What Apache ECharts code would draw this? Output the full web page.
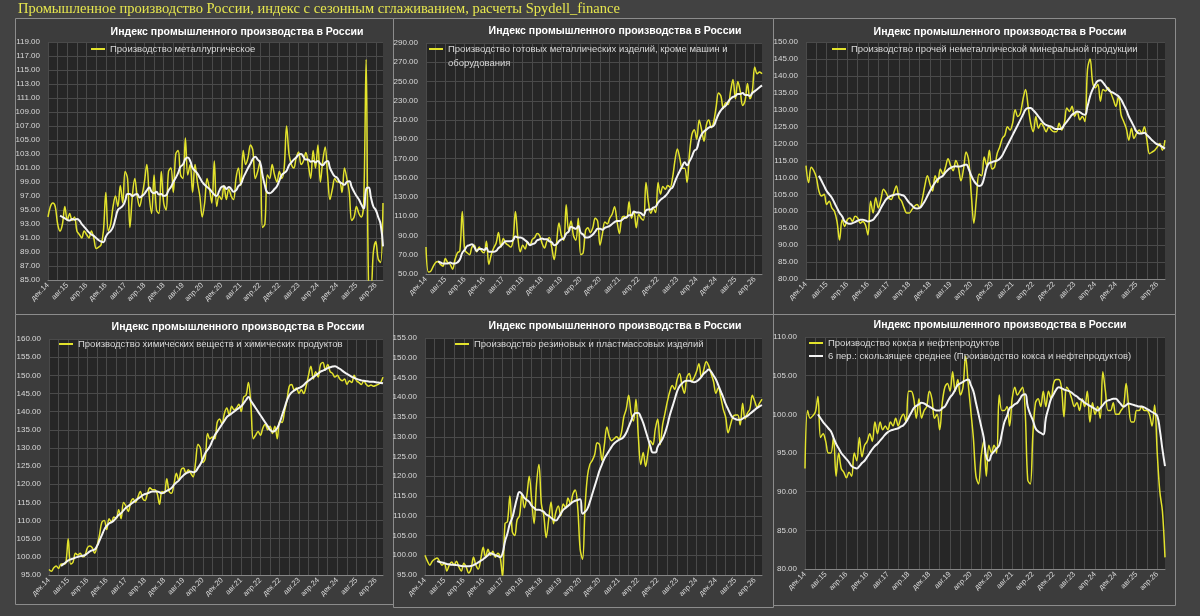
<!DOCTYPE html>
<html>
<head>
<meta charset="utf-8">
<script src="https://cdn.jsdelivr.net/npm/echarts@6/dist/echarts.min.js"></script>
<style>
  html, body { margin: 0; padding: 0; background: #424242; }
  #chart { width: 1200px; height: 616px; }
</style>
</head>
<body>
<div id="chart"></div>
<script>
// month labels: дек.14 … июл.26
const monthNames = ['янв', 'фев', 'мар', 'апр', 'май', 'июн', 'июл', 'авг', 'сен', 'окт', 'ноя', 'дек'];
const months = [];
for (let k = 0; k < 140; k++) {
  const m = (11 + k) % 12;
  const y = 14 + Math.floor((11 + k) / 12);
  months.push(monthNames[m] + '.' + y);
}

// ── Производство металлургическое ──
const metallurgy = [
  94, 95.5, 96, 95.5, 93, 92, 93, 95.5, 93.5, 94.5,
  93.5, 94, 92, 91.5, 91, 92, 91.5, 91, 92, 91,
  89.5, 89.7, 90, 92, 97.5, 92, 93, 95.5, 97, 95.5,
  98.5, 96, 100.5, 99.5, 92.5, 97, 99.5, 97, 95.5, 97,
  99, 101.5, 97, 94.5, 100, 95, 94.5, 100.5, 96, 95,
  100.5, 101, 97.5, 103, 103.5, 100, 99.5, 105.3, 100, 101.5,
  97.5, 101.5, 99, 97, 94, 96, 99.5, 98, 96, 102,
  95.5, 97, 96.5, 98.5, 96.5, 98, 97, 96.5, 99.5, 101,
  98.5, 103.5, 101.5, 102.5, 104.3, 103.5, 99.5, 100.5, 102, 92.5,
  93, 100, 99.5, 101.5, 100, 99, 100.5, 99.5, 101, 107,
  103, 101.5, 101, 102.5, 103.3, 101.5, 102, 103.2, 101.5, 99.5,
  103.5, 101, 104.3, 99, 102, 104, 100, 96.5, 98, 99.5,
  99, 99, 97.5, 101, 99.5, 97.5, 93.5, 94, 95.5, 94.5,
  94, 96, 116.5, 84.5, 84, 89, 90.5, 88, 87.5, 96
];
const metallurgyMA = [
  null, null, null, null, null, 94.2, 94.0, 93.8, 93.6, 93.5,
  93.7, 93.6, 93.7, 93.5, 93.0, 92.6, 92.2, 91.8, 91.5, 91.3,
  91.0, 90.7, 90.5, 90.4, 91.2, 91.7, 92.0, 92.6, 93.8, 95.0,
  95.3, 95.6, 96.3, 97.3, 97.3, 97.0, 97.2, 97.3, 96.8, 97.0,
  97.3, 97.8, 98.2, 97.6, 97.4, 97.6, 97.2, 97.3, 97.0, 97.1,
  97.8, 98.3, 99.0, 99.6, 100.3, 101.2, 101.5, 102.3, 102.5, 102.0,
  101.0, 100.6, 100.2, 99.6, 99.0, 98.6, 98.3, 98.0, 97.6, 97.2,
  97.0, 97.7, 98.3, 98.4, 98.0, 98.3, 98.0, 97.6, 97.8, 98.4,
  98.7, 99.6, 100.3, 101.0, 101.6, 102.3, 102.6, 102.2, 101.8, 100.0,
  98.5, 97.5, 97.4, 97.6, 98.0, 98.4, 99.2, 100.0, 100.3, 100.6,
  101.4, 101.8, 102.2, 102.5, 102.9, 103.0, 102.6, 102.2, 102.2, 101.9,
  102.0, 101.8, 102.0, 101.6, 101.4, 101.8, 102.0, 101.0, 100.3, 99.8,
  99.6, 99.0, 98.8, 98.6, 99.0, 99.1, 98.3, 97.6, 97.0, 96.5,
  95.8, 95.2, 98.0, 98.2, 96.8, 95.5, 95.0, 94.0, 93.0, 89.8
];

// ── Производство готовых металлических изделий ──
const fabricatedMetal = [
  78, 52, 53, 58, 62, 63, 60, 58, 66, 62,
  60, 55, 65, 72, 74, 115, 75, 72, 70, 78,
  80, 73, 78, 74, 72, 84, 60, 70, 77, 82,
  93, 78, 87, 82, 80, 78, 85, 115, 88, 73,
  80, 76, 83, 80, 86, 88, 92, 90, 82, 77,
  84, 88, 78, 65, 82, 103, 90, 85, 122, 95,
  105, 90, 85, 108, 70, 72, 95, 98, 93, 98,
  108, 105, 80, 92, 104, 102, 108, 112, 120, 105,
  92, 108, 110, 108, 125, 108, 115, 98, 112, 108,
  106, 145, 125, 113, 118, 114, 145, 133, 141, 138,
  142, 140, 150, 168, 180, 170, 160, 160, 145, 175,
  195, 200, 190, 210, 200, 188, 205, 210, 202, 208,
  223, 238, 235, 222, 228, 226, 240, 252, 232, 250,
  240, 225, 230, 248, 232, 240, 265, 258, 260, 258
];
const fabricatedMetalMA = [
  null, null, null, null, null, 63, 62, 61, 61, 61,
  62, 61, 61, 62, 65, 72, 75, 79, 80, 81,
  78, 74, 76, 76, 75, 77, 73, 73, 73, 74,
  77, 79, 82, 84, 84, 84, 85, 89, 88, 88,
  87, 85, 83, 80, 81, 82, 85, 86, 87, 86,
  86, 84, 83, 80, 81, 84, 86, 87, 92, 94,
  99, 98, 97, 100, 93, 91, 88, 88, 89, 91,
  94, 97, 97, 96, 98, 99, 100, 102, 104, 105,
  105, 106, 108, 109, 111, 111, 115, 114, 114, 113,
  111, 116, 117, 117, 119, 120, 124, 127, 129, 131,
  134, 138, 140, 146, 152, 157, 162, 166, 163, 167,
  172, 178, 180, 189, 195, 198, 200, 202, 203, 204,
  210, 216, 220, 223, 225, 229, 232, 234, 235, 237,
  237, 238, 236, 236, 235, 238, 240, 242, 244, 246
];

// ── Производство прочей неметаллической минеральной продукции ──
const nonMetallic = [
  113.5, 108.5, 113, 112, 110, 106, 104.5, 105, 102, 103,
  101, 100, 97, 91.5, 97.5, 95.5, 97.5, 98, 97, 98.5,
  98, 96.5, 97, 96, 93, 103, 99.5, 104, 101, 103.5,
  106.5, 105.5, 104, 103.5, 105.5, 107.5, 104, 103, 101, 99.5,
  99.5, 100.5, 101.5, 102, 101, 103.5, 107.5, 110.5, 108, 106,
  110.5, 108.5, 112.5, 111, 113, 115.5, 113.5, 112, 115, 113,
  109, 112.5, 117.5, 115, 105, 96.5, 104, 111, 110.5, 116,
  113.5, 118, 112.5, 113, 117, 119, 121.5, 122.5, 125, 124,
  126, 130, 128, 129, 133, 136, 131, 126, 123.5, 128,
  124.5, 126, 125, 123.5, 125, 124, 123.5, 123.5, 126, 124,
  126, 130.5, 129.5, 131, 128, 129.5, 127, 128, 126.5, 142,
  145, 138, 136.5, 137.5, 132.5, 136, 135.5, 136.5, 135, 133,
  131, 134, 128.5, 126.5, 124.5, 121, 124.5, 121.5, 123, 124,
  123, 125, 121, 117, 117.5, 118, 119, 120, 118, 121
];
const nonMetallicMA = [
  null, null, null, null, null, 110.5, 109, 107.5, 106, 105,
  104, 102.5, 101, 99.5, 98.5, 97, 96.5, 96.3, 96.5, 96.8,
  97.2, 97.5, 97.5, 97.3, 97, 97.2, 97.5, 98.5, 99.5, 101,
  102.3, 103.5, 104.2, 104.6, 104.8, 105, 105, 104.8, 104.5, 103.5,
  102.5, 101.8, 101, 100.8, 101, 101.8, 103, 104.5, 106, 107.3,
  108.5, 109.5, 110, 110.5, 111.5, 112.3, 112.8, 113.2, 113.3, 113.2,
  113.3, 113.6, 113.8, 112.5, 110.5, 109, 108, 107.5, 107.8, 110,
  113, 114.3, 114.5, 114.8, 115, 115.5, 116.5, 118, 119.5, 121,
  122.5, 124, 125.5, 127, 128.5, 130, 130.5, 130.5, 129.8, 129,
  128, 127, 126, 125.5, 125.2, 125, 124.5, 124.3, 124.3, 124.5,
  125.5, 126.5, 127.5, 128.5, 129, 129.5, 129.3, 128.8, 128.5, 131,
  134, 136, 137.5, 138.5, 138.7, 138, 137, 136, 135.3, 135,
  134.5, 134, 133, 131.5, 130, 128, 126.5, 125, 123.5, 123,
  123, 123.2, 122.5, 121.8, 121, 120.3, 119.8, 119.5, 119, 118.5
];

// ── Производство химических веществ и химических продуктов ──
const chemicals = [
  96.5, 96, 97, 97.5, 96.8, 98, 98, 98.3, 105, 98,
  98.5, 101, 100.5, 101, 100, 100.5, 102.5, 103, 102.5, 101,
  103, 106, 109.5, 110, 107.5, 110.5, 109.5, 111, 110.5, 113,
  110.5, 115, 114, 112.5, 115, 116, 115, 116.5, 118, 116,
  115.5, 117.5, 119, 118.5, 118.5, 117.5, 114.5, 118, 117.5, 121.5,
  118, 117.5, 120, 123, 121, 124, 124.5, 123, 124, 123,
  122, 126, 131, 130, 126, 127, 134, 132.5, 133, 132.5,
  137, 138, 136.5, 139.5, 141, 139, 141.5, 140.5, 141, 142,
  140, 144, 144.5, 148, 142, 132.5, 133.5, 134.5, 133.5, 135.5,
  136.5, 135, 136, 134, 136, 132.5, 137.5, 137, 140, 143,
  147, 147.5, 146, 146.5, 145, 146, 145, 147, 150, 152.5,
  149, 151, 149.5, 153, 153.5, 151.5, 153, 151, 150.5, 149.5,
  150, 149, 148.5, 149, 147.5, 148.5, 148, 150, 148.5, 148,
  147.5, 148.5, 147.5, 147, 147.3, 147, 147.2, 147.5, 148, 149.5
];
const chemicalsMA = [
  null, null, null, null, null, 97.5, 98, 98.5, 99, 99.3,
  99.5, 99.8, 100, 100.2, 100.3, 100.5, 101, 101.5, 101.8, 102,
  103, 104.5, 106, 107.5, 108.5, 109.2, 109.5, 110, 110.8, 111.5,
  112, 112.8, 113.5, 114, 114.5, 115, 115.5, 116, 116.5, 117,
  117.3, 117.5, 117.8, 118, 118, 118, 117.8, 117.5, 117.8, 118.2,
  118.5, 119, 119.8, 120.5, 121, 121.8, 122.5, 123, 123.3, 123.5,
  123.3, 123.5, 124.5, 125.5, 127, 128.5, 129.5, 130.5, 132, 133.5,
  134.5, 135.5, 136.5, 137.5, 138.5, 139, 139.5, 140, 140.5, 141,
  141.5, 142.3, 143.2, 144, 143, 142, 141, 140, 139, 138,
  137, 136, 135, 134.5, 134.7, 135.5, 137, 139, 141, 143,
  144.5, 145.3, 145.8, 146.2, 146.5, 146.8, 147.3, 148, 148.5, 149,
  149.5, 150, 150.5, 151, 151.3, 151.6, 152, 152.2, 152.4, 152.5,
  152.2, 151.8, 151.3, 150.8, 150.4, 150, 149.6, 149.3, 149, 148.8,
  148.6, 148.5, 148.4, 148.3, 148.2, 148.2, 148.1, 148, 147.9, 147.8
];

// ── Производство резиновых и пластмассовых изделий ──
const rubberPlastics = [
  100, 98.5, 97.5, 98.5, 99, 99.3, 98.5, 97.5, 98, 96,
  97.5, 98.3, 97.5, 98.5, 97, 96, 98, 97, 95.5, 96.5,
  99.5, 97.5, 96.5, 99, 102, 99.5, 101.5, 100, 101, 99.5,
  100.5, 99.5, 94.5, 108, 108.5, 115, 106, 105, 109, 110,
  115.5, 112, 115, 120, 114, 108, 118, 123, 113, 110,
  104.5, 109, 113.5, 108, 111, 112.5, 110, 113, 112, 114.5,
  113, 115.5, 116.5, 112, 101.5, 99, 112, 120, 123, 124,
  125.5, 128.5, 128, 124, 128, 132.5, 130, 129, 129.5, 130,
  129.5, 131, 135, 137, 140.5, 136, 134, 139.5, 130, 123,
  126, 122.5, 126, 129, 128, 132, 134.5, 128, 133, 136,
  139, 141.5, 143, 142, 144.5, 146, 143, 141, 145, 146,
  144, 145, 146.5, 148.5, 145, 147, 149, 148, 146, 144,
  141, 142.5, 140, 137, 135, 131, 133, 135, 135.5, 135.5,
  133, 138.5, 134.5, 136, 137, 140.5, 139, 137.5, 138.5, 139.5
];
const rubberPlasticsMA = [
  null, null, null, null, null, 98.5, 98.3, 98.2, 98, 97.8,
  97.7, 97.6, 97.6, 97.5, 97.4, 97.3, 97.2, 97.2, 97.2, 97.3,
  97.5, 97.8, 98.2, 98.6, 99, 99.5, 100, 100.5, 100.3, 100,
  99.8, 99.5, 100.5, 103.5, 105.5, 108, 109.5, 112, 114.5, 116,
  115.5, 114.5, 114, 113.5, 112.5, 112, 111.5, 111.5, 111.3, 111,
  110.3, 110, 109.5, 109, 108.8, 109.5, 110.5, 111.5, 112, 112.5,
  113, 113.5, 113.8, 114, 114.2, 110.5, 111, 111.8, 113.5, 115.5,
  117.5, 119.5, 121.5, 123, 124.5, 125.5, 126.5, 127.5, 128.3, 128.8,
  129.2, 129.5, 130, 131, 132.5, 134, 135.5, 136, 136, 135,
  133.5, 131.5, 129.5, 127.5, 126, 126, 127.5, 128.5, 129.5, 131,
  133, 135.5, 137.5, 139.5, 141.5, 142.8, 143.5, 144, 144.2, 144.2,
  144, 143.8, 144, 144.5, 145.2, 146, 146.5, 147, 146.5, 145.5,
  144.5, 143, 141.5, 140, 138.3, 137, 135.7, 134.8, 134.5, 134.3,
  134.3, 134.6, 135, 135.3, 135.8, 136.3, 136.8, 137.3, 137.7, 138
];

// ── Производство кокса и нефтепродуктов ──
const cokeRefined = [
  93, 100.5, 99.5, 99.8, 100.3, 102.3, 97, 97.5, 96.5, 95,
  95, 97, 92, 95, 93, 92.5, 91.8, 92.5, 92, 95,
  94, 97, 94.5, 96, 96.5, 97.5, 96.5, 99, 97.5, 99,
  98, 98.5, 98, 99, 98.5, 99.5, 98.5, 99.5, 100, 99,
  103, 103, 102, 99.5, 102, 99.5, 100.5, 101, 103, 102,
  99.5, 100, 98, 101.5, 103.5, 104, 103, 105.5, 103, 104.5,
  102.5, 103.5, 107.5, 104, 100.5, 97, 92, 91, 94.5, 96.5,
  92, 96, 95, 96, 95, 102.5, 100.5, 100.5, 101, 98.5,
  102, 103.5, 102.5, 103, 103.5, 100.5, 91.5, 91, 97.5, 101.5,
  102, 101, 103, 101, 103, 102, 104, 104.5, 104.5, 103.5,
  99.7, 103.5, 103, 102, 101, 101.5, 100.5, 102, 101, 103,
  99, 101.5, 100, 101, 99.5, 105.5, 103, 100.5, 100.5, 101.5,
  100, 100, 100.5, 101, 104, 101, 99, 99, 100.5, 100.5,
  101, 100.5, 100.5, 100, 98.5, 101.2, 95, 90, 87.5, 81.5
];
const cokeRefinedMA = [
  null, null, null, null, null, 100, 99.5, 99, 98.6, 98.2,
  97.8, 97, 96.2, 95.6, 95, 94.6, 94.2, 93.8, 93.3, 93.1,
  93, 93.3, 93.7, 94, 94.5, 95, 95.5, 95.9, 96.2, 96.6,
  97, 97.4, 97.7, 97.9, 98, 98.1, 98.2, 98.4, 98.6, 99,
  99.6, 100.2, 100.8, 101.1, 101.3, 101.5, 101.4, 101.2, 101, 100.8,
  100.6, 100.5, 100.5, 100.8, 101, 101.6, 102.2, 102.6, 103.2, 103.8,
  104, 104.2, 104.4, 104.5, 103.8, 103, 101.5, 100, 98.5, 97,
  94.5, 94, 94.8, 95.2, 95.6, 96, 97.5, 99, 99.8, 100.8,
  101, 101.3, 101.5, 102, 102.5, 102.6, 101, 100, 99.2, 98.2,
  97.8, 97.6, 97.4, 99.5, 100.8, 102, 102.6, 103.2, 103.5, 103.4,
  103.2, 103.1, 103, 102.8, 102.5, 102.3, 102, 101.8, 101.5, 101.3,
  101.1, 100.9, 100.7, 100.5, 100.8, 101.2, 101.6, 101.8, 101.9, 102,
  102, 101.7, 101.3, 101, 101.2, 101.4, 101.3, 101.2, 101.1, 101,
  101, 100.9, 100.7, 100.5, 100.3, 100.1, 99.8, 98, 95.5, 93.3
];

const YELLOW = '#e3e32c';
const WHITE = '#f4f4f4';
const LABEL = '#d9d9d9';
const GRIDLINE = '#4a4a4a';
const FONT = '"Liberation Sans", Arial, sans-serif';
const chartTitle = 'Индекс промышленного производства в России';
const maPrefix = '6 пер.: скользящее среднее (';

// panel frames (shared edges), plot areas, axis ranges
const panels = [
  { frame: [15, 18, 378, 296], grid: [48, 42, 335, 238], min: 85, max: 119, step: 2,
    name: 'Производство металлургическое', data: metallurgy, ma: metallurgyMA,
    titleX: 237, titleY: 27, legendX: 91, legendY: 44 },
  { frame: [393, 18, 380, 296], grid: [426, 43, 336, 231], min: 50, max: 290, step: 20,
    name: 'Производство готовых металлических изделий, кроме машин и оборудования', data: fabricatedMetal, ma: fabricatedMetalMA,
    titleX: 615, titleY: 26, legendX: 429, legendY: 44 },
  { frame: [773, 18, 402, 296], grid: [806, 42, 359, 237], min: 80, max: 150, step: 5,
    name: 'Производство прочей неметаллической минеральной продукции', data: nonMetallic, ma: nonMetallicMA,
    titleX: 1000, titleY: 27, legendX: 832, legendY: 44 },
  { frame: [15, 314, 378, 290], grid: [49, 339, 334, 236], min: 95, max: 160, step: 5,
    name: 'Производство химических веществ и химических продуктов', data: chemicals, ma: chemicalsMA,
    titleX: 238, titleY: 322, legendX: 59, legendY: 339 },
  { frame: [393, 314, 380, 293], grid: [425, 338, 337, 237], min: 95, max: 155, step: 5,
    name: 'Производство резиновых и пластмассовых изделий', data: rubberPlastics, ma: rubberPlasticsMA,
    titleX: 615, titleY: 321, legendX: 455, legendY: 339 },
  { frame: [773, 314, 402, 291], grid: [805, 337, 360, 232], min: 80, max: 110, step: 5,
    name: 'Производство кокса и нефтепродуктов', data: cokeRefined, ma: cokeRefinedMA,
    titleX: 1000, titleY: 320, legendX: 809, legendY: 338, showMA: true }
];

const grids = [], xAxes = [], yAxes = [], series = [], legends = [], titles = [], graphics = [];

titles.push({
  text: 'Промышленное производство России, индекс с сезонным сглаживанием, расчеты Spydell_finance',
  left: 18, top: 2, padding: 0,
  textStyle: { color: '#e6e64e', fontSize: 14.5, fontWeight: 'normal', fontFamily: '"Liberation Serif", "Times New Roman", serif' }
});

panels.forEach((p, i) => {
  graphics.push({
    type: 'rect', z: -10, silent: true,
    shape: { x: p.frame[0] + 0.5, y: p.frame[1] + 0.5, width: p.frame[2], height: p.frame[3] },
    style: { fill: '#3c3c3c', stroke: '#8c8c8c', lineWidth: 1 }
  });

  grids.push({
    left: p.grid[0], top: p.grid[1], width: p.grid[2], height: p.grid[3],
    show: true, backgroundColor: '#262626', borderWidth: 0
  });

  xAxes.push({
    type: 'category', gridIndex: i, data: months, boundaryGap: false,
    axisLine: { lineStyle: { color: '#858585' } },
    axisTick: { show: false },
    axisLabel: { interval: 7, rotate: 45, color: LABEL, fontSize: 7.5, margin: 4, fontFamily: FONT },
    splitLine: { show: true, interval: 3, lineStyle: { color: GRIDLINE, width: 1 } }
  });

  yAxes.push({
    type: 'value', gridIndex: i, min: p.min, max: p.max, interval: p.step,
    axisLine: { show: false }, axisTick: { show: false },
    axisLabel: { color: LABEL, fontSize: 8, margin: 8, fontFamily: FONT, formatter: (v) => v.toFixed(2) },
    splitLine: { lineStyle: { color: GRIDLINE, width: 1 } }
  });

  const maName = maPrefix + p.name + ')';
  series.push({
    name: p.name, type: 'line', xAxisIndex: i, yAxisIndex: i,
    data: p.data, smooth: 0.35, symbol: 'none', color: YELLOW,
    lineStyle: { color: YELLOW, width: 1.5 }, z: 2
  });
  series.push({
    name: maName, type: 'line', xAxisIndex: i, yAxisIndex: i,
    data: p.ma, smooth: 0.5, symbol: 'none', color: WHITE,
    lineStyle: { color: WHITE, width: 2 }, z: 3
  });

  titles.push({
    text: chartTitle, left: p.titleX, top: p.titleY, textAlign: 'center', padding: 0,
    textStyle: { color: '#ffffff', fontSize: 10.5, fontWeight: 'bold', fontFamily: FONT }
  });

  legends.push({
    left: p.legendX, top: p.legendY, padding: 0, orient: 'vertical', itemGap: 3,
    icon: 'rect', itemWidth: 14, itemHeight: 2, selectedMode: false,
    data: p.showMA ? [p.name, maName] : [p.name],
    formatter: (n) => (i === 1 && n === p.name) ? 'Производство готовых металлических изделий, кроме машин и' : n,
    textStyle: { color: LABEL, fontSize: 9.5, fontFamily: FONT }
  });
});

// second line of the wrapped legend in panel 2
graphics.push({
  type: 'text', silent: true, z: 10, x: 448, y: 63,
  style: { text: 'оборудования', fill: LABEL, fontSize: 9.5, fontFamily: FONT, verticalAlign: 'middle' }
});

const chart = echarts.init(document.getElementById('chart'));
chart.setOption({
  backgroundColor: '#424242',
  animation: false,
  title: titles,
  legend: legends,
  grid: grids,
  xAxis: xAxes,
  yAxis: yAxes,
  series: series,
  graphic: graphics
});
</script>
</body>
</html>
